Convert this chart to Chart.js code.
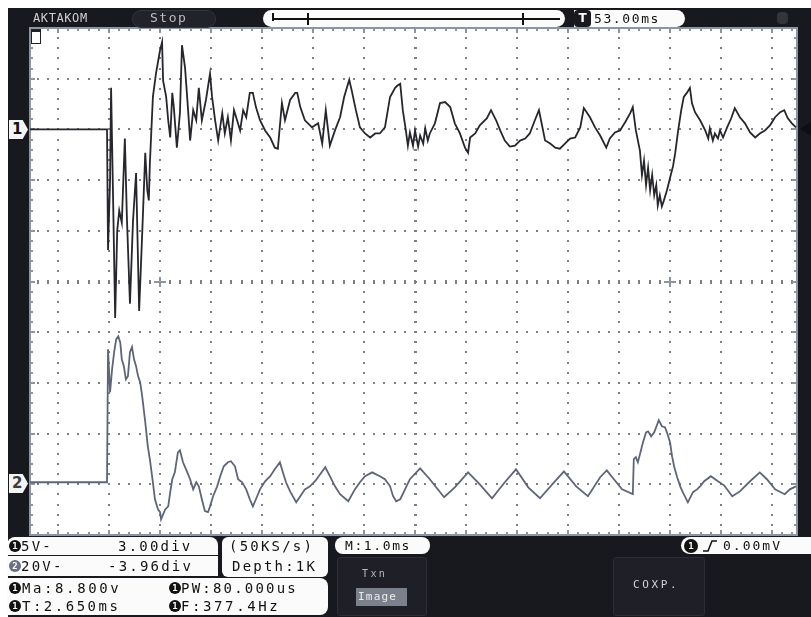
<!DOCTYPE html>
<html>
<head>
<meta charset="utf-8">
<script src="https://cdn.jsdelivr.net/npm/chart.js@4.4.1/dist/chart.umd.min.js"></script>
<style>
  html, body { margin: 0; padding: 0; background: #ffffff; }
  #screen { position: relative; width: 811px; height: 617px; overflow: hidden; font-family: "DejaVu Sans Mono", monospace; }
  #frame { position: absolute; left: 8px; top: 8px; right: 0; bottom: 0; background: #18191f; }
  #scopeChart { position: absolute; left: 0; top: 0; }
  .txt { position: absolute; white-space: nowrap; font-size: 14px; line-height: 16px; color: #111; letter-spacing: 2.2px; }
  .box { position: absolute; background: #fbfbfb; }
  .dot { position: absolute; width: 12px; height: 12px; border-radius: 50%; background: #121212; color: #fff; font-size: 9px; line-height: 12px; text-align: center; letter-spacing: 0; font-weight: bold; }
  .btn { position: absolute; background: #1f2027; border: 1px solid #2c2d35; border-radius: 3px; }
  .chmark { position: absolute; width: 19px; height: 19px; background: #f4f4f4; clip-path: polygon(0 0, 72% 0, 100% 50%, 72% 100%, 0 100%); font: bold 15px "DejaVu Sans", sans-serif; line-height: 19px; padding-left: 3px; box-sizing: border-box; }
</style>
</head>
<body>
<div id="screen">
  <div id="frame"></div>
  <canvas id="scopeChart" width="811" height="617"></canvas>

  <!-- top bar -->
  <div class="txt" style="left:33px;top:10px;color:#cfcfcf;font-size:12px;letter-spacing:0.6px">AKTAKOM</div>
  <div style="position:absolute;left:132px;top:10px;width:82px;height:16px;border-radius:9px;background:#22232a;border:1px solid #34353d"></div>
  <div class="txt" style="left:150px;top:10px;color:#bdbdbd;font-size:13px;letter-spacing:1.5px">Stop</div>
  <div style="position:absolute;left:263px;top:10px;width:302px;height:17px;border-radius:9px;background:#fbfbfb">
    <div style="position:absolute;left:9px;top:8px;width:288px;height:2px;background:#111"></div>
    <div style="position:absolute;left:9px;top:3px;width:2px;height:8px;background:#111"></div>
    <div style="position:absolute;left:44px;top:3px;width:2px;height:12px;background:#111"></div>
    <div style="position:absolute;left:259px;top:3px;width:2px;height:12px;background:#111"></div>
  </div>
  <div style="position:absolute;left:574px;top:10px;width:111px;height:17px;border-radius:0 9px 9px 0;background:#fbfbfb"></div>
  <div style="position:absolute;left:574px;top:10px;width:17px;height:17px;border-radius:4px;background:#1a1a1e;color:#fff;font:bold 12px 'DejaVu Sans';line-height:17px;text-align:center">T</div>
  <div class="txt" style="left:594px;top:11px;font-size:13px;letter-spacing:1.6px">53.00ms</div>
  <div style="position:absolute;left:777px;top:12px;width:11px;height:12px;border-radius:4px;background:#34353c"></div>

  <!-- channel markers -->
  <div class="chmark" style="left:9px;top:120px;color:#111">1</div>
  <div class="chmark" style="left:9px;top:474px;color:#3a3d46">2</div>
  <div style="position:absolute;left:31px;top:29px;width:8px;height:11px;border:1px solid #222;border-top-width:3px;background:#fff"></div>
  <div style="position:absolute;left:800px;top:122px;width:0;height:0;border-top:7px solid transparent;border-bottom:7px solid transparent;border-right:11px solid #0d0e12"></div>

  <!-- bottom info panel -->
  <div class="box" style="left:7px;top:537px;width:211px;height:18px;border-radius:8px 8px 0 0"></div>
  <div class="dot" style="left:9px;top:540px">1</div>
  <div class="txt" style="left:21px;top:538px">5V-</div>
  <div class="txt" style="left:118px;top:538px">3.00div</div>

  <div class="box" style="left:7px;top:556px;width:211px;height:20px"></div>
  <div class="dot" style="left:9px;top:560px;background:#6b7180">2</div>
  <div class="txt" style="left:21px;top:558px">20V-</div>
  <div class="txt" style="left:108px;top:558px">-3.96div</div>

  <div class="box" style="left:222px;top:537px;width:106px;height:40px;border-radius:6px"></div>
  <div class="txt" style="left:229px;top:538px">(50KS/s)</div>
  <div class="txt" style="left:232px;top:558px">Depth:1K</div>

  <div class="box" style="left:7px;top:578px;width:321px;height:37px;border-radius:0 8px 8px 0"></div>
  <div class="dot" style="left:9px;top:582px">1</div>
  <div class="txt" style="left:22px;top:580px;letter-spacing:2.6px">Ma:8.800v</div>
  <div class="dot" style="left:169px;top:582px">1</div>
  <div class="txt" style="left:181px;top:580px">PW:80.000us</div>
  <div class="dot" style="left:9px;top:600px">1</div>
  <div class="txt" style="left:22px;top:598px;letter-spacing:2.5px">T:2.650ms</div>
  <div class="dot" style="left:169px;top:600px">1</div>
  <div class="txt" style="left:181px;top:598px;letter-spacing:2.6px">F:377.4Hz</div>

  <div class="box" style="left:335px;top:537px;width:95px;height:17px;border-radius:8px"></div>
  <div class="txt" style="left:345px;top:538px;font-size:13px;letter-spacing:1.6px">M:1.0ms</div>

  <div class="box" style="left:681px;top:537px;width:130px;height:17px;border-radius:9px 0 0 9px"></div>
  <div class="dot" style="left:684px;top:539px;width:14px;height:14px;line-height:14px">1</div>
  <svg style="position:absolute;left:702px;top:539px" width="16" height="14"><polyline points="1,12 6,12 10,2 15,2" fill="none" stroke="#111" stroke-width="1.5"/></svg>
  <div class="txt" style="left:723px;top:538px;font-size:13px;letter-spacing:2px">0.00mV</div>

  <div class="btn" style="left:337px;top:557px;width:88px;height:57px"></div>
  <div class="txt" style="left:362px;top:566px;color:#b9b9b9;font-size:10px;letter-spacing:2.4px">Txn</div>
  <div style="position:absolute;left:356px;top:588px;width:51px;height:18px;background:#7b808d"></div>
  <div class="txt" style="left:358px;top:589px;color:#ececec;font-size:11px;letter-spacing:1.2px">Image</div>
  <div class="btn" style="left:613px;top:557px;width:90px;height:57px"></div>
  <div class="txt" style="left:633px;top:577px;color:#d4d4d4;font-size:11px;letter-spacing:2.6px">COXP.</div>
</div>

<script>
// channel settings (from the scope status panel)
const ch1VoltsPerDiv = 5;
const ch1OffsetDiv = 3.00;
const ch2VoltsPerDiv = 20;
const ch2OffsetDiv = -3.96;

// time axis, ms (1.0 ms/div, trigger at screen centre)
const timeMin = -7.55;
const timeMax = 7.49;

// channel 1 samples: time (ms) and volts
const ch1Time = [-7.55, -6.04, -6.02, -5.98, -5.96, -5.92, -5.88, -5.84, -5.80, -5.75, -5.69, -5.65, -5.59, -5.53, -5.47, -5.41,
    -5.35, -5.29, -5.25, -5.22, -5.20, -5.14, -5.08, -5.00, -4.96, -4.94, -4.88, -4.84, -4.80, -4.76, -4.73, -4.67,
    -4.61, -4.57, -4.51, -4.45, -4.41, -4.35, -4.29, -4.24, -4.18, -4.10, -4.02, -3.98, -3.92, -3.86, -3.78, -3.73,
    -3.67, -3.61, -3.55, -3.49, -3.43, -3.37, -3.31, -3.24, -3.18, -3.12, -3.04, -2.94, -2.84, -2.75, -2.69, -2.61,
    -2.55, -2.45, -2.35, -2.31, -2.25, -2.16, -2.02, -1.90, -1.82, -1.75, -1.67, -1.57, -1.47, -1.39, -1.29, -1.24,
    -1.16, -1.08, -0.98, -0.88, -0.78, -0.69, -0.59, -0.49, -0.39, -0.35, -0.29, -0.24, -0.18, -0.14, -0.10, -0.04,
    0.00, 0.06, 0.10, 0.16, 0.20, 0.25, 0.29, 0.39, 0.49, 0.59, 0.69, 0.78, 0.88, 0.98, 1.04, 1.08,
    1.18, 1.27, 1.41, 1.49, 1.59, 1.67, 1.76, 1.86, 1.96, 2.06, 2.16, 2.25, 2.35, 2.43, 2.47, 2.55,
    2.65, 2.75, 2.84, 2.94, 3.04, 3.14, 3.24, 3.31, 3.43, 3.53, 3.63, 3.75, 3.82, 3.92, 4.02, 4.12,
    4.22, 4.27, 4.33, 4.41, 4.45, 4.49, 4.53, 4.57, 4.61, 4.65, 4.69, 4.73, 4.76, 4.80, 4.84, 4.88,
    4.94, 5.00, 5.06, 5.10, 5.16, 5.22, 5.27, 5.33, 5.39, 5.43, 5.49, 5.59, 5.69, 5.75, 5.78, 5.84,
    5.88, 5.94, 5.98, 6.04, 6.12, 6.20, 6.27, 6.37, 6.47, 6.57, 6.67, 6.76, 6.86, 6.96, 7.06, 7.16,
    7.24, 7.31, 7.39, 7.47];
const ch1Volts = [0, 0, -11.9, -5.0, 4.1, -7.0, -18.6, -10.0, -8.0, -9.2, -0.9, -8.7, -17.2, -9.0, -4.3, -17.9,
    -10.3, -2.3, -6.0, -7.0, -3.4, 3.2, 5.5, 7.8, 8.6, 4.8, 3.2, 0.9, -0.8, 3.6, 2.2, -1.8,
    1.6, 8.3, 6.1, 1.9, -1.1, 1.9, 0.9, 4.1, 0.9, 2.9, 5.5, 3.2, 0.9, -1.1, 1.6, -0.4,
    1.2, -1.1, 1.9, 0.9, -0.1, 1.9, 1.2, 3.6, 3.6, 2.2, 0.9, -0.1, -0.8, -1.8, -1.9, 2.6,
    0.9, 2.9, 3.6, 3.6, 2.2, 0.9, 0.2, 0.6, -1.4, 1.9, -1.6, -0.1, 1.2, 3.2, 4.9, 3.8,
    1.9, 0.2, -0.4, -0.8, -0.4, -0.4, 0.2, 3.2, 4.1, 4.3, 4.5, 1.9, -0.1, -1.6, -0.3, -1.6,
    -0.1, -1.7, -0.6, -1.4, 0.1, -1.1, -0.4, 0.6, 2.6, 2.7, 2.2, 0.6, -0.4, -1.8, -2.3, -0.8,
    -0.4, 0.4, 1.1, 1.9, 0.9, -0.1, -1.1, -1.7, -1.6, -1.1, -0.9, -0.4, 0.9, 1.9, 0.9, -1.1,
    -1.4, -1.8, -1.9, -1.4, -0.9, -0.8, 0.2, 2.1, 1.2, 0.2, -0.6, -1.8, -0.9, -0.3, -0.1, 0.7,
    1.6, 2.2, -0.1, -2.1, -4.5, -3.1, -5.5, -3.8, -6.0, -4.5, -6.5, -5.5, -7.5, -6.5, -7.6, -7.0,
    -6.0, -4.8, -3.6, -2.4, -0.1, 1.9, 3.2, 3.6, 4.1, 2.6, 1.7, 0.9, -0.1, -0.9, 0.1, -1.1,
    -0.4, -0.9, -0.1, -0.8, 0.2, 1.1, 2.1, 1.2, 0.6, -0.3, -0.8, -0.4, -0.1, 0.4, 1.2, 1.7,
    1.9, 1.1, 0.6, 0.2];

// channel 2 samples: time (ms) and volts
const ch2Time = [-7.55, -6.04, -6.02, -5.98, -5.94, -5.90, -5.86, -5.82, -5.78, -5.75, -5.71, -5.67, -5.63, -5.59, -5.55, -5.51,
    -5.47, -5.43, -5.39, -5.35, -5.29, -5.24, -5.20, -5.14, -5.10, -5.04, -5.00, -4.98, -4.90, -4.84, -4.80, -4.76,
    -4.71, -4.65, -4.61, -4.55, -4.49, -4.41, -4.35, -4.29, -4.24, -4.18, -4.12, -4.06, -4.02, -3.96, -3.88, -3.82,
    -3.75, -3.67, -3.61, -3.53, -3.47, -3.39, -3.31, -3.24, -3.18, -3.12, -3.04, -2.94, -2.84, -2.75, -2.65, -2.59,
    -2.53, -2.45, -2.33, -2.25, -2.16, -2.06, -1.96, -1.86, -1.76, -1.67, -1.57, -1.47, -1.31, -1.18, -1.08, -0.98,
    -0.84, -0.69, -0.59, -0.49, -0.43, -0.37, -0.29, -0.10, 0.10, 0.29, 0.57, 0.78, 1.04, 1.27, 1.51, 1.76,
    1.98, 2.22, 2.45, 2.69, 2.92, 3.16, 3.39, 3.63, 3.76, 3.90, 4.06, 4.27, 4.29, 4.33, 4.37, 4.41,
    4.47, 4.53, 4.57, 4.63, 4.69, 4.75, 4.78, 4.84, 4.90, 4.94, 5.00, 5.04, 5.08, 5.14, 5.20, 5.25,
    5.35, 5.45, 5.53, 5.59, 5.67, 5.80, 5.94, 6.06, 6.22, 6.37, 6.57, 6.76, 6.90, 7.06, 7.25, 7.35,
    7.47];
const ch2Volts = [0, 0, 52.5, 35.5, 44.6, 51.3, 56.4, 57.6, 55.2, 48.5, 45.8, 40.6, 41.8, 51.3, 53.3, 48.5,
    45.8, 41.8, 39.5, 33.9, 23.7, 14.2, 9.1, 0, -6.7, -10.7, -11.8, -14.6, -10.7, -9.5, -3.9, 1.2,
    3.9, 11.8, 12.6, 7.9, 5.1, 1.2, -2.8, 0, -1.6, -6.7, -11.4, -11.8, -9.5, -5.5, -1.6, 2.4,
    6.3, 7.9, 8.3, 6.3, 1.2, 0, -2.8, -6.7, -9.5, -6.7, -2.8, 0.4, 2.4, 5.1, 7.9, 3.9,
    0, -3.6, -7.9, -5.5, -2.8, -1.6, 0.4, 3.2, 5.9, 2.4, -1.6, -4.7, -7.5, -2.8, 0, 2.4,
    3.9, 2.4, 1.2, -1.6, -5.5, -7.5, -6.7, 1.2, 5.5, 1.2, -5.9, -2.0, 3.9, -0.8, -6.3, 0,
    5.1, -2.0, -6.3, -0.8, 4.3, -1.6, -5.5, 2.0, 4.7, 1.2, -2.8, -4.7, 9.1, 9.9, 7.9, 11.0,
    15.8, 19.7, 20.1, 18.1, 19.7, 22.9, 24.5, 22.1, 21.7, 19.7, 15.8, 10.3, 6.3, 2.0, -1.6, -3.9,
    -7.9, -3.9, -2.8, -1.6, 0.4, 2.4, 0.4, -1.2, -5.5, -3.6, 0.4, 3.9, 1.2, -2.8, -4.7, -2.8,
    -1.6];

// screen divisions for the shared y axis
const ch1Points = ch1Time.map((t, i) => ({ x: t, y: ch1Volts[i] / ch1VoltsPerDiv + ch1OffsetDiv }));
const ch2Points = ch2Time.map((t, i) => ({ x: t, y: ch2Volts[i] / ch2VoltsPerDiv + ch2OffsetDiv }));

const gridColor = '#7e8089';
const borderColor = '#8e94a4';

const scopeGrid = {
    id: 'scopeGrid',
    beforeDatasetsDraw(chart) {
        const { ctx, chartArea: a, scales: { x, y } } = chart;
        ctx.save();
        ctx.fillStyle = '#ffffff';
        ctx.fillRect(a.left, a.top, a.right - a.left, a.bottom - a.top);

        ctx.fillStyle = gridColor;
        // vertical division lines
        for (let t = -7; t <= 7; t++) {
            const px = Math.round(x.getPixelForValue(t));
            for (let k = -24; k <= 24; k++) {
                const py = Math.round(y.getPixelForValue(k / 5));
                if (t === 0) ctx.fillRect(px - 1, py - 1, 3, 2);
                else ctx.fillRect(px - 1, py - 1, 2, 2);
            }
        }
        // horizontal division lines
        for (let d = -4; d <= 4; d++) {
            const py = Math.round(y.getPixelForValue(d));
            for (let k = -37; k <= 37; k++) {
                const px = Math.round(x.getPixelForValue(k / 5));
                if (px <= a.left + 2 || px >= a.right - 2) continue;
                if (d === 0) ctx.fillRect(px - 1, py - 2, 2, 4);
                else ctx.fillRect(px - 1, py - 1, 2, 2);
            }
        }

        // cursor crosses on the centre line
        ctx.strokeStyle = borderColor;
        ctx.lineWidth = 2;
        [-5, 5].forEach(t => {
            const px = Math.round(x.getPixelForValue(t));
            const py = Math.round(y.getPixelForValue(0));
            ctx.beginPath();
            ctx.moveTo(px - 6, py); ctx.lineTo(px + 6, py);
            ctx.moveTo(px, py - 5); ctx.lineTo(px, py + 5);
            ctx.stroke();
        });

        // frame with minor ticks
        ctx.strokeRect(a.left, a.top, a.right - a.left, a.bottom - a.top);
        ctx.fillStyle = borderColor;
        for (let k = -37; k <= 37; k++) {
            const px = Math.round(x.getPixelForValue(k / 5));
            if (px <= a.left + 2 || px >= a.right - 2) continue;
            const len = k % 5 === 0 ? 5 : 3;
            ctx.fillRect(px - 1, a.top, 2, len);
            ctx.fillRect(px - 1, a.bottom - len, 2, len);
        }
        for (let k = -24; k <= 24; k++) {
            const py = Math.round(y.getPixelForValue(k / 5));
            const len = k % 5 === 0 ? 5 : 3;
            ctx.fillRect(a.left, py - 1, len, 2);
            ctx.fillRect(a.right - len, py - 1, len, 2);
        }
        ctx.restore();
    }
};

const chartConfig = {
    type: 'line',
    data: {
        datasets: [{
            label: 'CH2',
            data: ch2Points,
            borderColor: '#5e6577',
            borderWidth: 1.8,
            pointRadius: 0,
            tension: 0
        }, {
            label: 'CH1',
            data: ch1Points,
            borderColor: '#26272d',
            borderWidth: 1.8,
            pointRadius: 0,
            tension: 0
        }]
    },
    options: {
        responsive: false,
        animation: false,
        devicePixelRatio: 1,
        layout: {
            padding: { left: 30, top: 28, right: 14, bottom: 82 }
        },
        scales: {
            x: { type: 'linear', min: timeMin, max: timeMax, display: false },
            y: { type: 'linear', min: -5, max: 5, display: false }
        },
        plugins: {
            legend: { display: false },
            tooltip: { enabled: false }
        }
    },
    plugins: [scopeGrid]
};

new Chart(document.getElementById('scopeChart').getContext('2d'), chartConfig);
</script>
</body>
</html>
